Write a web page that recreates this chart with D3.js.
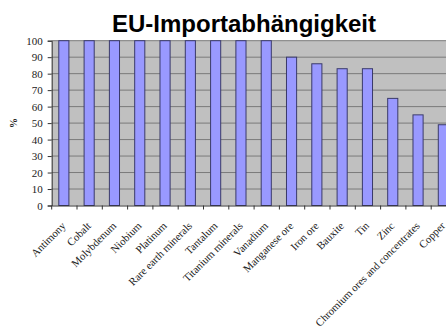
<!DOCTYPE html>
<html>
<head>
<meta charset="utf-8">
<script src="https://cdn.jsdelivr.net/npm/d3@7"></script>
<style>
  html, body { margin: 0; padding: 0; background: #fff; }
  svg { display: block; }
</style>
</head>
<body>
<svg id="chart" width="446" height="330"></svg>
<script>
// EU import dependency by raw material (%)
const categories = ["Antimony", "Cobalt", "Molybdenum", "Niobium", "Platinum",
  "Rare earth minerals", "Tantalum", "Titanium minerals", "Vanadium", "Manganese ore",
  "Iron ore", "Bauxite", "Tin", "Zinc", "Chromium ores and concentrates", "Copper"];
const values = [100, 100, 100, 100, 100, 100, 100, 100, 100, 90, 86, 83, 83, 65, 55, 49];
const yTicks = [0, 10, 20, 30, 40, 50, 60, 70, 80, 90, 100];
const title = "EU-Importabhängigkeit";
const yLabel = "%";

const svg = d3.select("#chart");
const plotLeft = 51.7, plotTop = 40.7, plotBottom = 205.5;
const step = 25.3;
const plotRight = plotLeft + step * categories.length;

const x = d3.scaleBand().domain(categories).range([plotLeft, plotRight]).paddingInner(0).paddingOuter(0);
const y = d3.scaleLinear().domain([0, 100]).range([plotBottom, plotTop]);

// plot background
svg.append("rect")
  .attr("x", plotLeft).attr("y", plotTop)
  .attr("width", plotRight - plotLeft).attr("height", plotBottom - plotTop)
  .attr("fill", "#c0c0c0");

// horizontal gridlines
svg.append("g").selectAll("line").data(yTicks.filter(d => d > 0)).join("line")
  .attr("x1", plotLeft).attr("x2", plotRight)
  .attr("y1", d => y(d)).attr("y2", d => y(d))
  .attr("stroke", "#7a7a7a").attr("stroke-width", 1);

// bars
const barW = x.bandwidth() * 0.4;
svg.append("g").selectAll("rect").data(values).join("rect")
  .attr("x", (d, i) => x(categories[i]) + (x.bandwidth() - barW) / 2 - 0.5)
  .attr("y", d => y(d))
  .attr("width", barW)
  .attr("height", d => plotBottom - y(d))
  .attr("fill", "#9999ff")
  .attr("stroke", "#3a3a6a")
  .attr("stroke-width", 1);

// y axis
const yAxis = d3.axisLeft(y).tickValues(yTicks).tickSize(4).tickPadding(5);
const gy = svg.append("g").attr("transform", `translate(${plotLeft},0)`).call(yAxis);
gy.select(".domain").attr("stroke", "#333");
gy.selectAll(".tick line").attr("stroke", "#333");
gy.selectAll("text")
  .attr("font-family", "'Liberation Serif', 'Times New Roman', serif")
  .attr("font-size", 11).attr("fill", "#222");

// x axis
const xAxis = d3.axisBottom(x).tickSize(0).tickFormat("");
const gx = svg.append("g").attr("transform", `translate(0,${plotBottom})`).call(xAxis);
gx.select(".domain").attr("stroke", "#333");
// category separator ticks
svg.append("g").selectAll("line").data(d3.range(categories.length + 1)).join("line")
  .attr("x1", i => plotLeft + i * step).attr("x2", i => plotLeft + i * step)
  .attr("y1", plotBottom).attr("y2", plotBottom + 4)
  .attr("stroke", "#333");

// rotated category labels
svg.append("g").selectAll("text").data(categories).join("text")
  .attr("transform", d => `translate(${x(d) + x.bandwidth() / 2 + 2},${plotBottom + 21}) rotate(-45)`)
  .attr("text-anchor", "end")
  .attr("font-family", "'Liberation Serif', 'Times New Roman', serif")
  .attr("font-size", 10.8).attr("fill", "#222")
  .text(d => d);

// y axis label
svg.append("text")
  .attr("transform", "translate(17,123) rotate(-90)")
  .attr("text-anchor", "middle")
  .attr("font-family", "'Liberation Serif', 'Times New Roman', serif")
  .attr("font-size", 10).attr("font-weight", "bold").attr("fill", "#222")
  .text(yLabel);

// title
svg.append("text")
  .attr("x", 244).attr("y", 31.5)
  .attr("text-anchor", "middle")
  .attr("font-family", "'Liberation Sans', Arial, sans-serif")
  .attr("font-size", 24).attr("font-weight", "bold").attr("fill", "#000")
  .text(title);
</script>
</body>
</html>
